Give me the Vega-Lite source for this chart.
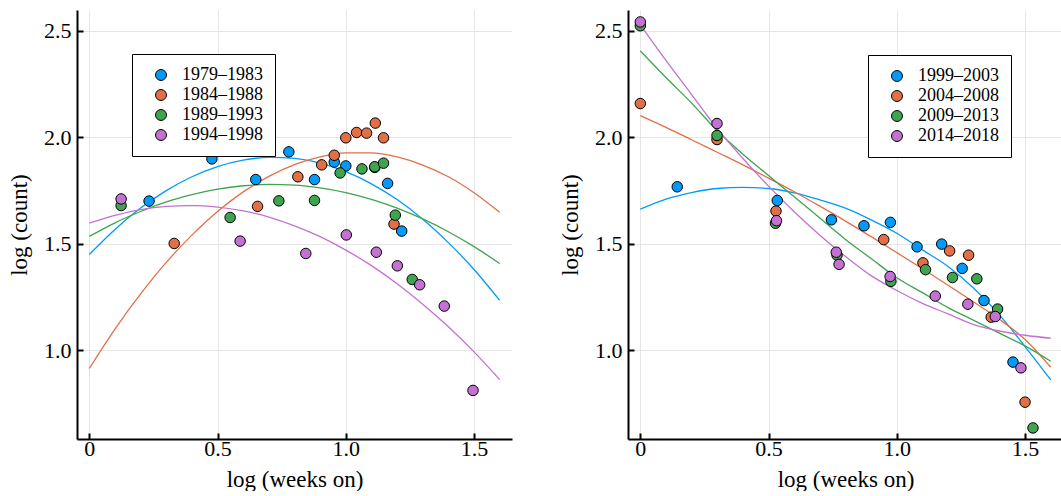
{
  "$schema": "https://vega.github.io/schema/vega-lite/v6.json",
  "padding": {"left": 8, "top": 10, "right": 0, "bottom": 0},
  "background": "white",
  "bounds": "flush",
  "spacing": 116,
  "config": {
    "view": {"stroke": null},
    "axis": {
      "domainColor": "black", "domainWidth": 2,
      "tickColor": "black", "tickWidth": 2, "tickSize": -6,
      "labelFont": "Liberation Serif", "labelFontSize": 22, "labelColor": "black",
      "titleFont": "Liberation Serif", "titleFontSize": 23, "titleFontWeight": "normal", "titleColor": "black",
      "gridColor": "#e6e6e6", "gridWidth": 1
    },
    "axisX": {"labelPadding": 5, "titlePadding": 9},
    "axisY": {"labelPadding": 12, "titlePadding": 12},
    "legend": {
      "orient": "none", "title": null,
      "labelFont": "Liberation Serif", "labelFontSize": 18, "labelColor": "black",
      "symbolType": "circle", "symbolSize": 120, "symbolStrokeColor": "black", "symbolStrokeWidth": 1, "symbolOpacity": 1,
      "rowPadding": 2, "padding": 12, "symbolOffset": 8, "strokeColor": "black", "fillColor": "white", "labelOffset": 12
    }
  },
  "datasets": {
    "pts1": [
      {"g": "1979–1983", "x": 0.233, "y": 1.700},
      {"g": "1979–1983", "x": 0.478, "y": 1.898},
      {"g": "1979–1983", "x": 0.649, "y": 1.801},
      {"g": "1979–1983", "x": 0.778, "y": 1.931},
      {"g": "1979–1983", "x": 0.878, "y": 1.801},
      {"g": "1979–1983", "x": 0.955, "y": 1.883},
      {"g": "1979–1983", "x": 1.000, "y": 1.865},
      {"g": "1979–1983", "x": 1.113, "y": 1.858},
      {"g": "1979–1983", "x": 1.163, "y": 1.783},
      {"g": "1979–1983", "x": 1.218, "y": 1.559},
      {"g": "1984–1988", "x": 0.331, "y": 1.501},
      {"g": "1984–1988", "x": 0.656, "y": 1.675},
      {"g": "1984–1988", "x": 0.813, "y": 1.814},
      {"g": "1984–1988", "x": 0.906, "y": 1.870},
      {"g": "1984–1988", "x": 0.955, "y": 1.915},
      {"g": "1984–1988", "x": 1.000, "y": 1.997},
      {"g": "1984–1988", "x": 1.042, "y": 2.022},
      {"g": "1984–1988", "x": 1.081, "y": 2.019},
      {"g": "1984–1988", "x": 1.115, "y": 2.066},
      {"g": "1984–1988", "x": 1.147, "y": 1.997},
      {"g": "1984–1988", "x": 1.188, "y": 1.592},
      {"g": "1989–1993", "x": 0.124, "y": 1.679},
      {"g": "1989–1993", "x": 0.549, "y": 1.623},
      {"g": "1989–1993", "x": 0.739, "y": 1.701},
      {"g": "1989–1993", "x": 0.878, "y": 1.703},
      {"g": "1989–1993", "x": 0.978, "y": 1.832},
      {"g": "1989–1993", "x": 1.063, "y": 1.851},
      {"g": "1989–1993", "x": 1.113, "y": 1.861},
      {"g": "1989–1993", "x": 1.147, "y": 1.878},
      {"g": "1989–1993", "x": 1.193, "y": 1.634},
      {"g": "1989–1993", "x": 1.259, "y": 1.332},
      {"g": "1994–1998", "x": 0.124, "y": 1.710},
      {"g": "1994–1998", "x": 0.588, "y": 1.512},
      {"g": "1994–1998", "x": 0.844, "y": 1.454},
      {"g": "1994–1998", "x": 1.002, "y": 1.541},
      {"g": "1994–1998", "x": 1.119, "y": 1.460},
      {"g": "1994–1998", "x": 1.201, "y": 1.396},
      {"g": "1994–1998", "x": 1.288, "y": 1.307},
      {"g": "1994–1998", "x": 1.384, "y": 1.207},
      {"g": "1994–1998", "x": 1.496, "y": 0.811}
    ],
    "lines1": [
      {"g": "1979–1983", "x": 0.0, "y": 1.449}, {"g": "1979–1983", "x": 0.1, "y": 1.567}, {"g": "1979–1983", "x": 0.2, "y": 1.667}, {"g": "1979–1983", "x": 0.3, "y": 1.749}, {"g": "1979–1983", "x": 0.4, "y": 1.814}, {"g": "1979–1983", "x": 0.5, "y": 1.862}, {"g": "1979–1983", "x": 0.6, "y": 1.892}, {"g": "1979–1983", "x": 0.7, "y": 1.905}, {"g": "1979–1983", "x": 0.8, "y": 1.900}, {"g": "1979–1983", "x": 0.9, "y": 1.878}, {"g": "1979–1983", "x": 1.0, "y": 1.838}, {"g": "1979–1983", "x": 1.1, "y": 1.781}, {"g": "1979–1983", "x": 1.2, "y": 1.707}, {"g": "1979–1983", "x": 1.3, "y": 1.615}, {"g": "1979–1983", "x": 1.4, "y": 1.505}, {"g": "1979–1983", "x": 1.5, "y": 1.379}, {"g": "1979–1983", "x": 1.6, "y": 1.234},
      {"g": "1984–1988", "x": 0.0, "y": 0.914}, {"g": "1984–1988", "x": 0.1, "y": 1.099}, {"g": "1984–1988", "x": 0.2, "y": 1.264}, {"g": "1984–1988", "x": 0.3, "y": 1.412}, {"g": "1984–1988", "x": 0.4, "y": 1.540}, {"g": "1984–1988", "x": 0.5, "y": 1.651}, {"g": "1984–1988", "x": 0.6, "y": 1.743}, {"g": "1984–1988", "x": 0.7, "y": 1.816}, {"g": "1984–1988", "x": 0.8, "y": 1.871}, {"g": "1984–1988", "x": 0.9, "y": 1.908}, {"g": "1984–1988", "x": 1.0, "y": 1.926}, {"g": "1984–1988", "x": 1.1, "y": 1.926}, {"g": "1984–1988", "x": 1.2, "y": 1.907}, {"g": "1984–1988", "x": 1.3, "y": 1.869}, {"g": "1984–1988", "x": 1.4, "y": 1.814}, {"g": "1984–1988", "x": 1.5, "y": 1.739}, {"g": "1984–1988", "x": 1.6, "y": 1.647},
      {"g": "1989–1993", "x": 0.0, "y": 1.534}, {"g": "1989–1993", "x": 0.1, "y": 1.598}, {"g": "1989–1993", "x": 0.2, "y": 1.651}, {"g": "1989–1993", "x": 0.3, "y": 1.696}, {"g": "1989–1993", "x": 0.4, "y": 1.730}, {"g": "1989–1993", "x": 0.5, "y": 1.756}, {"g": "1989–1993", "x": 0.6, "y": 1.772}, {"g": "1989–1993", "x": 0.7, "y": 1.778}, {"g": "1989–1993", "x": 0.8, "y": 1.775}, {"g": "1989–1993", "x": 0.9, "y": 1.762}, {"g": "1989–1993", "x": 1.0, "y": 1.740}, {"g": "1989–1993", "x": 1.1, "y": 1.708}, {"g": "1989–1993", "x": 1.2, "y": 1.667}, {"g": "1989–1993", "x": 1.3, "y": 1.616}, {"g": "1989–1993", "x": 1.4, "y": 1.556}, {"g": "1989–1993", "x": 1.5, "y": 1.486}, {"g": "1989–1993", "x": 1.6, "y": 1.407},
      {"g": "1994–1998", "x": 0.0, "y": 1.596}, {"g": "1994–1998", "x": 0.1, "y": 1.633}, {"g": "1994–1998", "x": 0.2, "y": 1.660}, {"g": "1994–1998", "x": 0.3, "y": 1.675}, {"g": "1994–1998", "x": 0.4, "y": 1.679}, {"g": "1994–1998", "x": 0.5, "y": 1.672}, {"g": "1994–1998", "x": 0.6, "y": 1.654}, {"g": "1994–1998", "x": 0.7, "y": 1.625}, {"g": "1994–1998", "x": 0.8, "y": 1.584}, {"g": "1994–1998", "x": 0.9, "y": 1.533}, {"g": "1994–1998", "x": 1.0, "y": 1.470}, {"g": "1994–1998", "x": 1.1, "y": 1.397}, {"g": "1994–1998", "x": 1.2, "y": 1.312}, {"g": "1994–1998", "x": 1.3, "y": 1.216}, {"g": "1994–1998", "x": 1.4, "y": 1.110}, {"g": "1994–1998", "x": 1.5, "y": 0.992}, {"g": "1994–1998", "x": 1.6, "y": 0.862}
    ],
    "pts2": [
      {"g": "1999–2003", "x": 0.144, "y": 1.767},
      {"g": "1999–2003", "x": 0.534, "y": 1.703},
      {"g": "1999–2003", "x": 0.745, "y": 1.612},
      {"g": "1999–2003", "x": 0.872, "y": 1.584},
      {"g": "1999–2003", "x": 0.975, "y": 1.600},
      {"g": "1999–2003", "x": 1.079, "y": 1.485},
      {"g": "1999–2003", "x": 1.175, "y": 1.498},
      {"g": "1999–2003", "x": 1.255, "y": 1.384},
      {"g": "1999–2003", "x": 1.340, "y": 1.233},
      {"g": "1999–2003", "x": 1.453, "y": 0.944},
      {"g": "2004–2008", "x": 0.0, "y": 2.158},
      {"g": "2004–2008", "x": 0.299, "y": 1.989},
      {"g": "2004–2008", "x": 0.529, "y": 1.653},
      {"g": "2004–2008", "x": 0.949, "y": 1.519},
      {"g": "2004–2008", "x": 1.102, "y": 1.410},
      {"g": "2004–2008", "x": 1.206, "y": 1.466},
      {"g": "2004–2008", "x": 1.280, "y": 1.446},
      {"g": "2004–2008", "x": 1.368, "y": 1.155},
      {"g": "2004–2008", "x": 1.500, "y": 0.756},
      {"g": "2009–2013", "x": 0.0, "y": 2.523},
      {"g": "2009–2013", "x": 0.299, "y": 2.008},
      {"g": "2009–2013", "x": 0.527, "y": 1.596},
      {"g": "2009–2013", "x": 0.767, "y": 1.446},
      {"g": "2009–2013", "x": 0.977, "y": 1.323},
      {"g": "2009–2013", "x": 1.112, "y": 1.378},
      {"g": "2009–2013", "x": 1.217, "y": 1.341},
      {"g": "2009–2013", "x": 1.312, "y": 1.335},
      {"g": "2009–2013", "x": 1.393, "y": 1.193},
      {"g": "2009–2013", "x": 1.531, "y": 0.635},
      {"g": "2014–2018", "x": 0.0, "y": 2.541},
      {"g": "2014–2018", "x": 0.299, "y": 2.064},
      {"g": "2014–2018", "x": 0.531, "y": 1.608},
      {"g": "2014–2018", "x": 0.764, "y": 1.460},
      {"g": "2014–2018", "x": 0.775, "y": 1.403},
      {"g": "2014–2018", "x": 0.974, "y": 1.346},
      {"g": "2014–2018", "x": 1.150, "y": 1.254},
      {"g": "2014–2018", "x": 1.277, "y": 1.216},
      {"g": "2014–2018", "x": 1.384, "y": 1.158},
      {"g": "2014–2018", "x": 1.484, "y": 0.917}
    ],
    "lines2": [
      {"g": "1999–2003", "x": 0.0, "y": 1.662}, {"g": "1999–2003", "x": 0.1, "y": 1.709}, {"g": "1999–2003", "x": 0.2, "y": 1.740}, {"g": "1999–2003", "x": 0.3, "y": 1.759}, {"g": "1999–2003", "x": 0.4, "y": 1.764}, {"g": "1999–2003", "x": 0.5, "y": 1.759}, {"g": "1999–2003", "x": 0.6, "y": 1.739}, {"g": "1999–2003", "x": 0.7, "y": 1.706}, {"g": "1999–2003", "x": 0.8, "y": 1.667}, {"g": "1999–2003", "x": 0.9, "y": 1.612}, {"g": "1999–2003", "x": 1.0, "y": 1.549}, {"g": "1999–2003", "x": 1.1, "y": 1.471}, {"g": "1999–2003", "x": 1.2, "y": 1.393}, {"g": "1999–2003", "x": 1.3, "y": 1.291}, {"g": "1999–2003", "x": 1.4, "y": 1.166}, {"g": "1999–2003", "x": 1.5, "y": 1.017}, {"g": "1999–2003", "x": 1.6, "y": 0.861},
      {"g": "2004–2008", "x": 0.0, "y": 2.101}, {"g": "2004–2008", "x": 0.1, "y": 2.046}, {"g": "2004–2008", "x": 0.2, "y": 1.988}, {"g": "2004–2008", "x": 0.3, "y": 1.929}, {"g": "2004–2008", "x": 0.4, "y": 1.870}, {"g": "2004–2008", "x": 0.5, "y": 1.808}, {"g": "2004–2008", "x": 0.6, "y": 1.744}, {"g": "2004–2008", "x": 0.7, "y": 1.676}, {"g": "2004–2008", "x": 0.8, "y": 1.606}, {"g": "2004–2008", "x": 0.9, "y": 1.533}, {"g": "2004–2008", "x": 1.0, "y": 1.458}, {"g": "2004–2008", "x": 1.1, "y": 1.382}, {"g": "2004–2008", "x": 1.2, "y": 1.305}, {"g": "2004–2008", "x": 1.3, "y": 1.226}, {"g": "2004–2008", "x": 1.4, "y": 1.145}, {"g": "2004–2008", "x": 1.5, "y": 1.050}, {"g": "2004–2008", "x": 1.6, "y": 0.920},
      {"g": "2009–2013", "x": 0.0, "y": 2.405}, {"g": "2009–2013", "x": 0.1, "y": 2.280}, {"g": "2009–2013", "x": 0.2, "y": 2.160}, {"g": "2009–2013", "x": 0.3, "y": 2.030}, {"g": "2009–2013", "x": 0.4, "y": 1.920}, {"g": "2009–2013", "x": 0.5, "y": 1.820}, {"g": "2009–2013", "x": 0.6, "y": 1.720}, {"g": "2009–2013", "x": 0.7, "y": 1.620}, {"g": "2009–2013", "x": 0.8, "y": 1.520}, {"g": "2009–2013", "x": 0.9, "y": 1.430}, {"g": "2009–2013", "x": 1.0, "y": 1.340}, {"g": "2009–2013", "x": 1.1, "y": 1.270}, {"g": "2009–2013", "x": 1.2, "y": 1.200}, {"g": "2009–2013", "x": 1.3, "y": 1.140}, {"g": "2009–2013", "x": 1.4, "y": 1.080}, {"g": "2009–2013", "x": 1.5, "y": 1.020}, {"g": "2009–2013", "x": 1.6, "y": 0.948},
      {"g": "2014–2018", "x": 0.0, "y": 2.527}, {"g": "2014–2018", "x": 0.1, "y": 2.360}, {"g": "2014–2018", "x": 0.2, "y": 2.200}, {"g": "2014–2018", "x": 0.3, "y": 2.040}, {"g": "2014–2018", "x": 0.4, "y": 1.900}, {"g": "2014–2018", "x": 0.5, "y": 1.770}, {"g": "2014–2018", "x": 0.6, "y": 1.650}, {"g": "2014–2018", "x": 0.7, "y": 1.540}, {"g": "2014–2018", "x": 0.8, "y": 1.440}, {"g": "2014–2018", "x": 0.9, "y": 1.350}, {"g": "2014–2018", "x": 1.0, "y": 1.280}, {"g": "2014–2018", "x": 1.1, "y": 1.220}, {"g": "2014–2018", "x": 1.2, "y": 1.170}, {"g": "2014–2018", "x": 1.3, "y": 1.120}, {"g": "2014–2018", "x": 1.4, "y": 1.090}, {"g": "2014–2018", "x": 1.5, "y": 1.070}, {"g": "2014–2018", "x": 1.6, "y": 1.056}
    ]
  },
  "hconcat": [
    {
      "width": 435, "height": 429,
      "layer": [
        {
          "data": {"name": "lines1"},
          "mark": {"type": "line", "strokeWidth": 1.3, "interpolate": "monotone", "clip": true},
          "encoding": {
            "x": {"field": "x", "type": "quantitative", "scale": {"domain": [-0.048, 1.648], "nice": false, "zero": false},
                  "axis": {"title": "log (weeks on)", "values": [0, 0.5, 1.0, 1.5], "labelExpr": "datum.value == 0 ? '0' : format(datum.value, '.1f')"}},
            "y": {"field": "y", "type": "quantitative", "scale": {"domain": [0.583, 2.597], "nice": false, "zero": false},
                  "axis": {"title": "log (count)", "values": [1.0, 1.5, 2.0, 2.5], "format": ".1f"}},
            "color": {"field": "g", "type": "nominal", "legend": null,
                      "scale": {"domain": ["1979–1983", "1984–1988", "1989–1993", "1994–1998"], "range": ["#009AFA", "#E36F47", "#3EA44E", "#C371D2"]}}
          }
        },
        {
          "data": {"name": "pts1"},
          "mark": {"type": "point", "filled": true, "size": 110, "stroke": "black", "strokeWidth": 1, "opacity": 1},
          "encoding": {
            "x": {"field": "x", "type": "quantitative"},
            "y": {"field": "y", "type": "quantitative"},
            "color": {"field": "g", "type": "nominal",
                      "scale": {"domain": ["1979–1983", "1984–1988", "1989–1993", "1994–1998"], "range": ["#009AFA", "#E36F47", "#3EA44E", "#C371D2"]},
                      "legend": {"orient": "none", "legendX": 55, "legendY": 44}}
          }
        }
      ],
      "resolve": {"scale": {"color": "independent"}, "legend": {"color": "independent"}}
    },
    {
      "width": 435, "height": 429,
      "layer": [
        {
          "data": {"name": "lines2"},
          "mark": {"type": "line", "strokeWidth": 1.3, "interpolate": "monotone", "clip": true},
          "encoding": {
            "x": {"field": "x", "type": "quantitative", "scale": {"domain": [-0.048, 1.648], "nice": false, "zero": false},
                  "axis": {"title": "log (weeks on)", "values": [0, 0.5, 1.0, 1.5], "labelExpr": "datum.value == 0 ? '0' : format(datum.value, '.1f')"}},
            "y": {"field": "y", "type": "quantitative", "scale": {"domain": [0.583, 2.597], "nice": false, "zero": false},
                  "axis": {"title": "log (count)", "values": [1.0, 1.5, 2.0, 2.5], "format": ".1f"}},
            "color": {"field": "g", "type": "nominal", "legend": null,
                      "scale": {"domain": ["1999–2003", "2004–2008", "2009–2013", "2014–2018"], "range": ["#009AFA", "#E36F47", "#3EA44E", "#C371D2"]}}
          }
        },
        {
          "data": {"name": "pts2"},
          "mark": {"type": "point", "filled": true, "size": 110, "stroke": "black", "strokeWidth": 1, "opacity": 1},
          "encoding": {
            "x": {"field": "x", "type": "quantitative"},
            "y": {"field": "y", "type": "quantitative"},
            "color": {"field": "g", "type": "nominal",
                      "scale": {"domain": ["1999–2003", "2004–2008", "2009–2013", "2014–2018"], "range": ["#009AFA", "#E36F47", "#3EA44E", "#C371D2"]},
                      "legend": {"orient": "none", "legendX": 240, "legendY": 45}}
          }
        }
      ],
      "resolve": {"scale": {"color": "independent"}, "legend": {"color": "independent"}}
    }
  ],
  "resolve": {"scale": {"color": "independent", "x": "independent", "y": "independent"}, "legend": {"color": "independent"}}
}
